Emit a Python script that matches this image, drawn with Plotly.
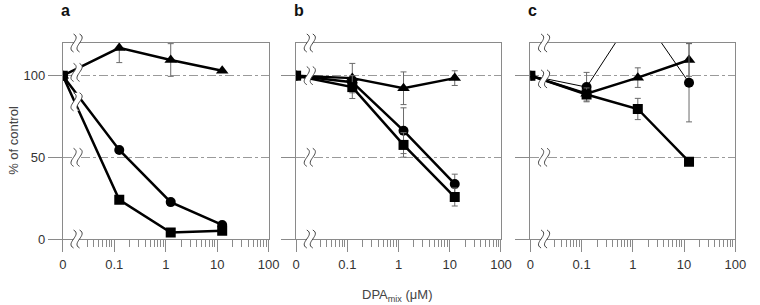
import numpy as np
import plotly.graph_objects as go

# ---------------- data ----------------
conc_um = [0, 0.125, 1.25, 12.5]
x_tick_um = [0, 0.1, 1, 10, 100]
x_tick_text = ["0", "0.1", "1", "10", "100"]
y_tick_vals = [0, 50, 100]
y_tick_text = ["0", "50", "100"]
panel_letters = ["a", "b", "c"]

a_triangle = [100, 117, 109.6, 103]
a_triangle_err = [0, 9, 10, 0]
a_circle = [100, 54.5, 22.6, 8.6]
a_circle_err = [0, 0, 0, 0]
a_square = [100, 24, 4, 5]
a_square_err = [0, 0, 0, 0]

b_triangle = [100, 98.5, 92.3, 98.5]
b_triangle_err = [0, 9, 10, 4.5]
b_circle = [100, 96, 66.3, 33.7]
b_circle_err = [0, 0, 14, 6]
b_square = [100, 93, 57.6, 25.7]
b_square_err = [0, 7, 7.5, 5.5]

c_triangle = [100, 89, 98.8, 109.6]
c_triangle_err = [0, 0, 6, 10]
c_circle = [100, 93, 141, 95.7]
c_circle_err = [0, 9, 0, 24]
c_square = [100, 88.5, 79.6, 47.3]
c_square_err = [0, 4, 6.5, 0]

panels = [
    (a_triangle, a_triangle_err, a_circle, a_circle_err, a_square, a_square_err, 2.5),
    (b_triangle, b_triangle_err, b_circle, b_circle_err, b_square, b_square_err, 2.5),
    (c_triangle, c_triangle_err, c_circle, c_circle_err, c_square, c_square_err, 1),
]
break_levels = [[120, 102, 84, 50, 0], [120, 100, 50, 0], [120, 98, 50, 0]]

# ------------- scale: log axis with "0" placed one decade below 0.1 -------------
ZERO_POS = -2.0


def xpos(c):
    return np.log10(c) if c > 0 else ZERO_POS


x_pos = [xpos(c) for c in conc_um]
tick_pos = [xpos(c) for c in x_tick_um]
minor_um = [m * 10.0 ** e for e in (-2, -1, 0, 1) for m in range(2, 10)]
minor_um = [m for m in minor_um if m >= 0.03]
minor_pos = [np.log10(m) for m in minor_um]

W, H = 760, 305
TOP, BOT = 43, 239          # pixel rows of the plot area
domains = [(60, 270), (298, 507), (537, 746)]
AX = "#8a8a8a"
FONT = "Liberation Sans, Arial, sans-serif"


def py(pix):
    """page pixel row -> paper y (paper spans the plot area between margins)"""
    return (BOT - pix) / (BOT - TOP)


fig = go.Figure()

for i, (tri, tri_e, cir, cir_e, sq, sq_e, cir_w) in enumerate(panels):
    xa = "x" if i == 0 else f"x{i+1}"
    ya = "y" if i == 0 else f"y{i+1}"
    series = [
        (tri, tri_e, "triangle-up", 11, 2.5),
        (cir, cir_e, "circle", 10, cir_w),
        (sq, sq_e, "square", 10, 2.5),
    ]
    for vals, errs, sym, msize, lw in series:
        fig.add_trace(go.Scatter(
            x=x_pos, y=vals, xaxis=xa, yaxis=ya, mode="lines+markers",
            line=dict(color="black", width=lw),
            marker=dict(symbol=sym, size=msize, color="black"),
            error_y=dict(type="data", array=errs, visible=True,
                         color="#6a6a6a", thickness=1, width=3),
            showlegend=False, hoverinfo="skip",
        ))

    d0, d1 = domains[i]
    key = "" if i == 0 else str(i + 1)
    fig.layout["xaxis" + key] = dict(
        domain=[d0 / W, d1 / W], anchor=ya, range=[ZERO_POS, 2],
        tickmode="array", tickvals=tick_pos, ticktext=x_tick_text,
        ticks="outside", ticklen=12, tickwidth=1, tickcolor=AX,
        minor=dict(tickmode="array", tickvals=minor_pos, ticks="outside",
                   ticklen=7, tickwidth=1, tickcolor=AX),
        showline=True, linecolor=AX, linewidth=1, mirror=True,
        showgrid=False, zeroline=False, ticklabelstandoff=1,
        tickfont=dict(family=FONT, size=13, color="#333"),
    )
    fig.layout["yaxis" + key] = dict(
        domain=[0, 1], anchor=xa, range=[0, 120],
        tickmode="array", tickvals=y_tick_vals, ticktext=y_tick_text,
        showticklabels=(i == 0),
        ticks="outside", ticklen=14, tickwidth=1, tickcolor=AX,
        showline=True, linecolor=AX, linewidth=1, mirror=True,
        showgrid=True, gridcolor="#9a9a9a", griddash="dashdot", gridwidth=1,
        zeroline=False,
        tickfont=dict(family=FONT, size=13, color="#333"),
    )

    # axis-break symbols (decoration, positioned in axis-domain fractions)
    bx = (-1.733 - ZERO_POS) / 4.0
    for lvl in break_levels[i]:
        common = dict(type="path", xref=xa + " domain", yref=ya + " domain",
                      xsizemode="pixel", ysizemode="pixel",
                      xanchor=bx, yanchor=lvl / 120.0)
        fig.add_shape(**common,
                      path="M -3,9 C 6,4 -12,-4 -3,-9 L 3,-9 C -6,-4 12,4 3,9 Z",
                      fillcolor="white", line=dict(width=0))
        fig.add_shape(**common,
                      path="M -3,9 C 6,4 -12,-4 -3,-9 M 3,9 C 12,4 -6,-4 3,-9",
                      fillcolor="rgba(0,0,0,0)", line=dict(color="#444", width=1))

    fig.add_annotation(text=f"<b>{panel_letters[i]}</b>", xref="paper", yref="paper",
                       x=(d0 - 4) / W, y=py(10), xanchor="left", yanchor="middle",
                       showarrow=False, font=dict(family=FONT, size=16, color="#111"))

fig.add_annotation(text="DPA<sub>mix</sub> (μM)", xref="paper", yref="paper",
                   x=401 / W, y=py(295), xanchor="center", yanchor="middle",
                   showarrow=False, font=dict(family=FONT, size=13, color="#444"))
fig.add_annotation(text="% of control", xref="paper", yref="paper",
                   x=9 / W, y=py(140), xanchor="center", yanchor="middle",
                   textangle=-90, showarrow=False,
                   font=dict(family=FONT, size=13, color="#444"))

fig.update_layout(
    width=W, height=H, margin=dict(l=0, r=0, t=TOP, b=H - BOT),
    paper_bgcolor="white", plot_bgcolor="white",
)
fig.write_html("out.html", config={"displayModeBar": False},
               post_script="document.body.style.margin='0';document.body.style.padding='0';")
